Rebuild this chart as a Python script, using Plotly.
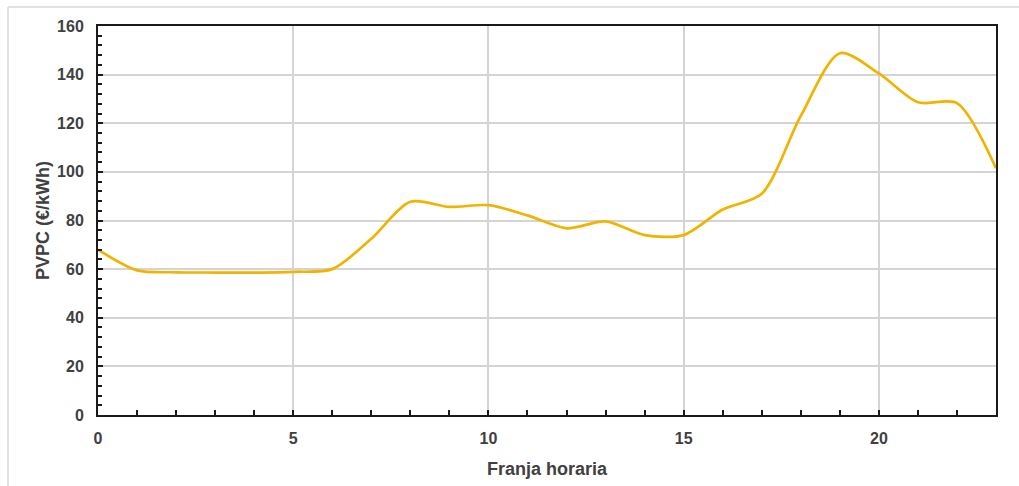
import plotly.graph_objects as go

# Hourly PVPC price (€/kWh) for each time slot of the day
hours = list(range(24))
pvpc = [68.0, 59.5, 58.7, 58.6, 58.6, 58.9, 60.0, 72.5, 87.7, 85.6, 86.3, 82.1,
        76.8, 79.6, 74.0, 74.0, 84.5, 91.0, 123.0, 148.8, 140.5, 128.6, 128.3, 101.5]

x_ticks = [0, 5, 10, 15, 20]
y_ticks = [0, 20, 40, 60, 80, 100, 120, 140, 160]

line_color = "#F2B300"
text_color = "#404040"
grid_color = "#D4D4D4"
font_family = "Liberation Sans, Arial, sans-serif"

fig = go.Figure()
fig.add_trace(go.Scatter(
    x=hours, y=pvpc, mode="lines",
    line=dict(color=line_color, width=2.7, shape="spline", smoothing=0.8),
    hoverinfo="x+y", showlegend=False,
))

axis_common = dict(
    showline=True, linecolor="#1A1A1A", linewidth=2, mirror=True,
    ticks="inside", tickcolor="#1A1A1A", tickwidth=1.5,
    showgrid=True, gridcolor=grid_color, gridwidth=1.5,
    zeroline=False, automargin=False,
    tickfont=dict(family=font_family, size=16, color=text_color, weight="bold"),
)

fig.update_xaxes(
    range=[0, 23], tickvals=x_ticks, ticktext=[str(v) for v in x_ticks], ticklen=5,
    minor=dict(dtick=1, tick0=0, ticks="inside", ticklen=5, tickcolor="#1A1A1A", showgrid=False),
    title=dict(text="Franja horaria", standoff=16,
               font=dict(family=font_family, size=18, color=text_color, weight="bold")),
    ticklabelstandoff=8,
    **axis_common,
)
fig.update_yaxes(
    range=[0, 160], tickvals=y_ticks, ticktext=[str(v) for v in y_ticks], ticklen=5,
    minor=dict(dtick=4, tick0=0, ticks="inside", ticklen=4, tickcolor="#1A1A1A", showgrid=False),
    title=dict(text="PVPC (€/kWh)", standoff=3,
               font=dict(family=font_family, size=18, color=text_color, weight="bold")),
    ticklabelstandoff=9,
    **axis_common,
)

# Light frame around the chart area
plot_w, plot_h = 898, 389
left_px, top_px = 90, 19
fig.add_shape(type="line", xref="paper", yref="paper",
              x0=-left_px / plot_w, x1=1 + 40 / plot_w,
              y0=1 + top_px / plot_h, y1=1 + top_px / plot_h,
              line=dict(color="#D9D9D9", width=1.5), layer="below")
fig.add_shape(type="line", xref="paper", yref="paper",
              x0=-left_px / plot_w, x1=-left_px / plot_w,
              y0=1 + top_px / plot_h, y1=-100 / plot_h,
              line=dict(color="#D9D9D9", width=1.5), layer="below")

fig.update_layout(
    width=1019, height=486,
    margin=dict(l=98, r=23, t=26, b=71),
    paper_bgcolor="white", plot_bgcolor="white",
    font=dict(family=font_family, color=text_color),
)

fig.write_html("out.html")
